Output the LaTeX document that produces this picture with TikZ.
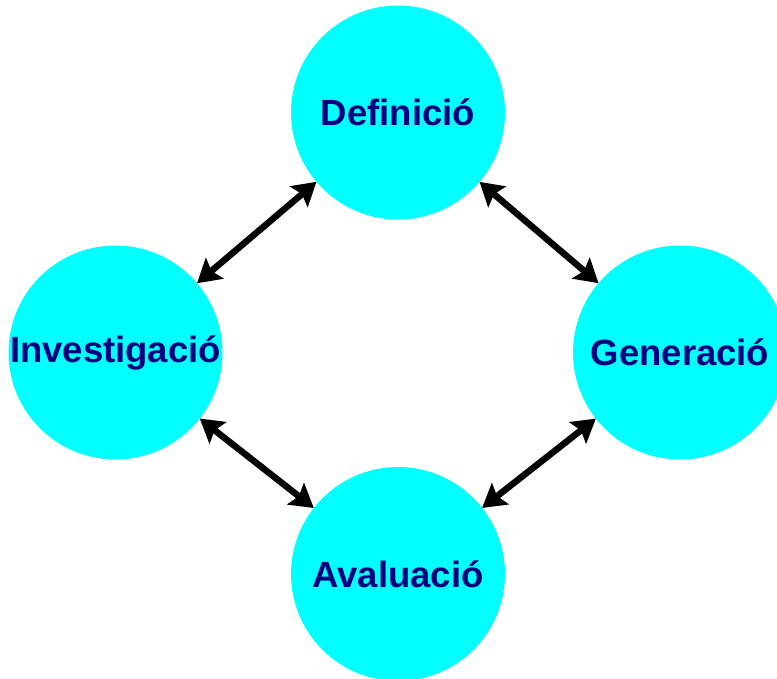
\documentclass[tikz,border=0pt]{standalone}
\usepackage{fontspec}
\setmainfont{Liberation Sans}
\usetikzlibrary{arrows.meta}
\definecolor{cyanfill}{HTML}{00FFFF}
\definecolor{navytext}{HTML}{000080}
\tikzset{
  stage/.style={circle, fill=cyanfill, draw=none, minimum size=214pt, inner sep=0pt, outer sep=0pt,
    text=navytext, font=\fontsize{36.5}{40}\selectfont\bfseries},
  link/.style={line width=6.5pt, black, {Stealth[length=23pt,width=27pt,inset=4pt]}-{Stealth[length=23pt,width=27pt,inset=4pt]}}
}
\begin{document}
\begin{tikzpicture}[x=1pt,y=-1pt]
\useasboundingbox (0,0) rectangle (777,678);
\clip (0,0) rectangle (777,678);
\node[stage] (def) at (398,112.5) {Definició};
\node[stage] (inv) at (115.5,352.5) {Investigació};
\node[stage] (gen) at (680,352.5) {Generació};
\node[stage] (ava) at (398,574) {Avaluació};
\draw[link] (inv) -- (def);
\draw[link] (def) -- (gen);
\draw[link] (inv) -- (ava);
\draw[link] (gen) -- (ava);
\end{tikzpicture}
\end{document}
